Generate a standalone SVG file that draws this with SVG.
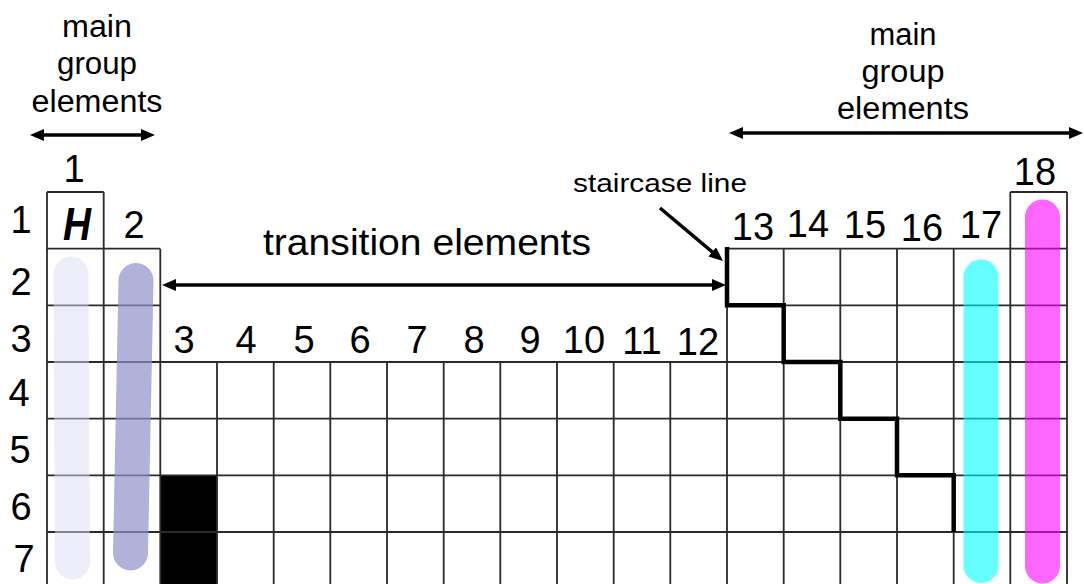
<svg xmlns="http://www.w3.org/2000/svg" width="1084" height="584" viewBox="0 0 1084 584">
<style>
.t{font-family:"Liberation Sans",Arial,sans-serif;fill:#000}
.num{font-size:38px;text-anchor:middle}
.lbl{font-size:31px;text-anchor:middle}
.grid{fill:none;stroke:#2a2a2a;stroke-width:1.8}
.arr{fill:none;stroke:#000;stroke-width:3.5;marker-start:url(#ah);marker-end:url(#ah)}
.bar{fill:none;stroke-linecap:round;stroke-width:35}
</style>
<defs>
<marker id="ah" viewBox="0 0 14 12" markerWidth="14" markerHeight="12" refX="8" refY="6" orient="auto-start-reverse" markerUnits="userSpaceOnUse">
<path d="M0,0 L14,6 L0,12 z" fill="#000"/>
</marker>
</defs>
<rect width="1084" height="584" fill="#fff"/>

<g id="table">
<rect x="160.3" y="475.3" width="56.7" height="113" fill="#000"/>
<path class="grid" d="M47,192H103.7 M1010.3,192H1067
M47,248.7H160.3 M727,248.7H1067
M47,305.3H160.3 M727,305.3H1067
M47,362H1067 M47,418.7H1067 M47,475.3H1067 M47,532H1067
M47,192V590 M103.7,192V590 M160.3,248.7V590
M217,362V590 M273.7,362V590 M330.3,362V590 M387,362V590 M443.7,362V590 M500.3,362V590 M557,362V590 M613.7,362V590 M670.3,362V590
M727,248.7V590 M783.7,248.7V590 M840.3,248.7V590 M897,248.7V590 M953.7,248.7V590 M1010.3,192V590 M1067,192V590"/>
</g>

<g id="staircase">
<path d="M727,247V305.3H783.7V362H840.3V418.7H897V475.3H953.7V532" fill="none" stroke="#000" stroke-width="4.5" stroke-linejoin="miter"/>
</g>

<g id="highlights">
<line class="bar" x1="71" y1="274" x2="72.5" y2="562" stroke="#ddddf5" stroke-opacity="0.5" stroke-width="36"/>
<line class="bar" x1="136" y1="280.5" x2="130.5" y2="553" stroke="#9090c9" stroke-opacity="0.7"/>
<line class="bar" x1="981" y1="277" x2="981" y2="565.5" stroke="#00ffff" stroke-opacity="0.6"/>
<line class="bar" x1="1042.5" y1="217" x2="1042.5" y2="566" stroke="#ff00ff" stroke-opacity="0.6"/>
</g>

<g id="connectors">
<line class="arr" x1="36" y1="135" x2="149" y2="135"/>
<line class="arr" x1="735" y1="133" x2="1077" y2="133"/>
<line class="arr" x1="168" y1="285" x2="720" y2="285"/>
<line x1="660" y1="208" x2="718.4" y2="257.1" stroke="#000" stroke-width="3.5" marker-end="url(#ah)"/>
</g>

<g id="label-main-left">
<text class="t lbl" x="97" y="37" textLength="70" lengthAdjust="spacingAndGlyphs">main</text>
<text class="t lbl" x="97" y="74" textLength="80" lengthAdjust="spacingAndGlyphs">group</text>
<text class="t lbl" x="97" y="112" textLength="131" lengthAdjust="spacingAndGlyphs">elements</text>
</g>
<g id="label-main-right">
<text class="t lbl" x="903" y="45" textLength="67" lengthAdjust="spacingAndGlyphs">main</text>
<text class="t lbl" x="903" y="82" textLength="83" lengthAdjust="spacingAndGlyphs">group</text>
<text class="t lbl" x="903" y="119" textLength="132" lengthAdjust="spacingAndGlyphs">elements</text>
</g>
<g id="label-transition">
<text class="t" x="263" y="255" font-size="36" textLength="328" lengthAdjust="spacingAndGlyphs">transition elements</text>
</g>
<g id="label-staircase">
<text class="t" x="573" y="192" font-size="26" textLength="174" lengthAdjust="spacingAndGlyphs">staircase line</text>
</g>

<g id="hydrogen">
<text class="t" x="63" y="240" font-size="46" font-style="italic" font-weight="bold" textLength="28" lengthAdjust="spacingAndGlyphs">H</text>
</g>

<g id="group-numbers">
<text class="t num" x="74" y="182">1</text>
<text class="t num" x="134" y="238">2</text>
<text class="t num" x="184" y="353">3</text>
<text class="t num" x="246" y="353">4</text>
<text class="t num" x="304" y="353">5</text>
<text class="t num" x="360" y="353">6</text>
<text class="t num" x="417" y="353">7</text>
<text class="t num" x="474" y="353">8</text>
<text class="t num" x="530" y="353">9</text>
<text class="t num" x="584" y="353">10</text>
<text class="t num" x="642" y="354">11</text>
<text class="t num" x="698" y="355">12</text>
<text class="t num" x="753" y="240">13</text>
<text class="t num" x="808" y="237">14</text>
<text class="t num" x="865" y="238">15</text>
<text class="t num" x="922" y="241">16</text>
<text class="t num" x="981" y="238">17</text>
<text class="t num" x="1035" y="185">18</text>
</g>

<g id="period-numbers">
<text class="t num" x="21" y="233">1</text>
<text class="t num" x="21" y="295">2</text>
<text class="t num" x="21" y="352">3</text>
<text class="t num" x="19" y="406">4</text>
<text class="t num" x="20" y="463">5</text>
<text class="t num" x="21" y="520">6</text>
<text class="t num" x="24" y="572">7</text>
</g>
</svg>
